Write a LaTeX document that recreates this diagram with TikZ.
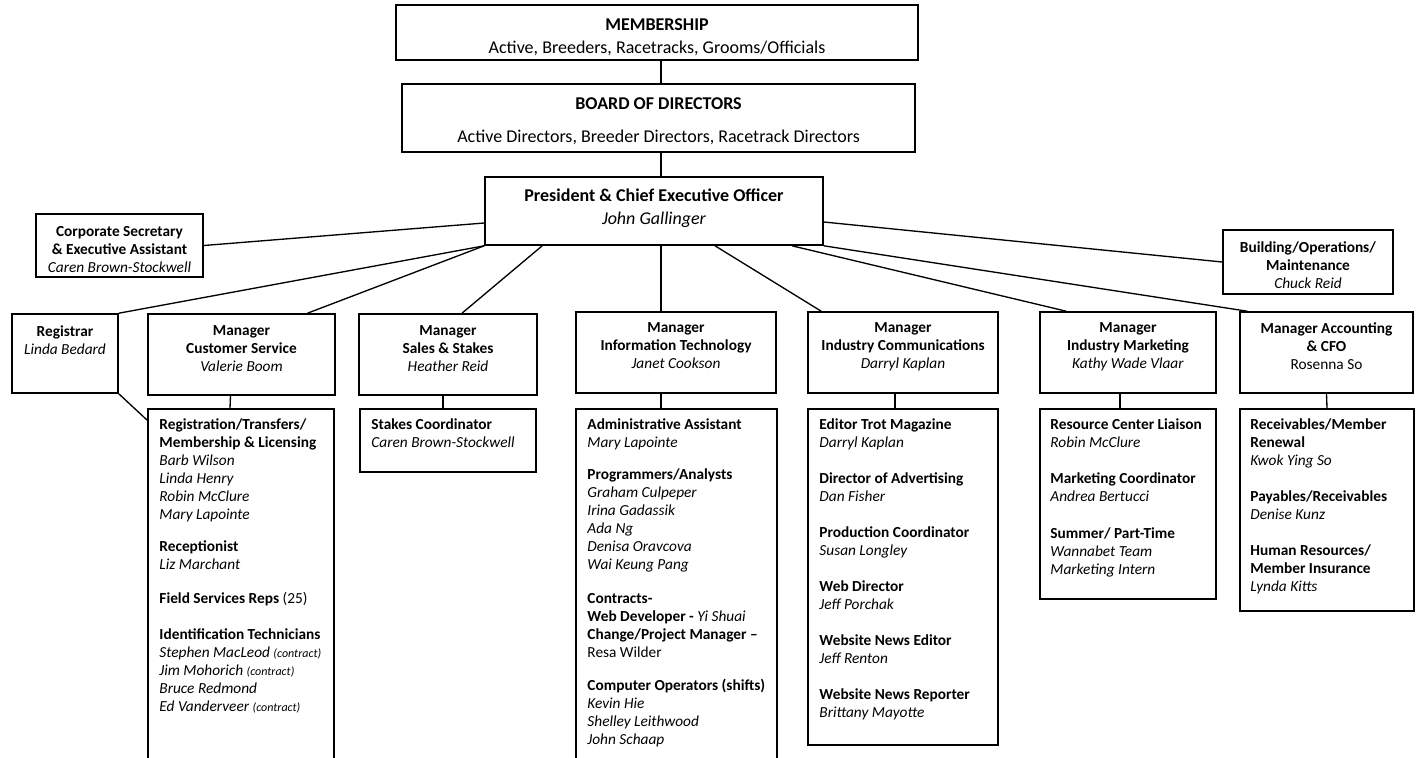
\documentclass[tikz,border=0pt]{standalone}
\usepackage{fontspec}
\setmainfont{Carlito}
\usetikzlibrary{calc}
\usetikzlibrary{fit}
\tikzset{
  box/.style={draw, line width=1.2pt, inner sep=0pt},
  txt/.style={inner sep=0pt, align=center, anchor=north, font=\fontsize{11.5}{13.5}\selectfont},
  toptxt/.style={txt, font=\fontsize{13.5}{17.25}\selectfont},
  listtxt/.style={inner sep=0pt, align=left, anchor=north west, font=\fontsize{11.5}{13.5}\selectfont},
  link/.style={line width=1pt},
}
\newcommand{\contr}{{\fontsize{9}{10}\selectfont\itshape (contract)}}

\begin{document}
\begin{tikzpicture}[x=0.75pt,y=-0.75pt]
    \useasboundingbox (0,0) rectangle (1421,757);
    \clip (0,0) rectangle (1421,757);
    \coordinate (spine) at (661,0);

    % Membership, board and president
    \node[box, fit={(396,5) (918,60)}] (mem) {};
    \node[toptxt] (memText) at ($(mem.north)+(0,14)$) {\textbf{MEMBERSHIP}\\Active, Breeders, Racetracks, Grooms/Officials};
    \node[box, fit={(402,84) (915,152)}] (board) {};
    \node[toptxt] (boardText) at ($(board.north)+(0,14)$) {\textbf{BOARD OF DIRECTORS}\\[7.5pt]Active Directors, Breeder Directors, Racetrack Directors};
    \node[box, fit={(485,177) (823,245)}] (pres) {};
    \node[toptxt] (presText) at ($(pres.north)+(0,12)$) {\textbf{President \& Chief Executive Officer}\\\textit{John Gallinger}};

    % Staff beside the president
    \node[box, fit={(36,214) (203,277)}] (corp) {};
    \node[txt] (corpText) at ($(corp.north)+(0,13)$) {\textbf{Corporate Secretary}\\\textbf{\& Executive Assistant}\\\textit{Caren Brown-Stockwell}};
    \node[box, fit={(1223,230) (1393,294)}] (bldg) {};
    \node[txt] (bldgText) at ($(bldg.north)+(0,12)$) {\textbf{Building/Operations/}\\\textbf{Maintenance}\\\textit{Chuck Reid}};

    % Managers
    \node[box, fit={(12,314) (118,393)}] (reg) {};
    \node[txt] (regText) at ($(reg.north)+(0,12)$) {\textbf{Registrar}\\\textit{Linda Bedard}};
    \node[box, fit={(148,314) (335,395)}] (cs) {};
    \node[txt] (csText) at ($(cs.north)+(0,12)$) {\textbf{Manager}\\\textbf{Customer Service}\\\textit{Valerie Boom}};
    \node[box, fit={(359,314) (537,395)}] (sales) {};
    \node[txt] (salesText) at ($(sales.north)+(0,12)$) {\textbf{Manager}\\\textbf{Sales \& Stakes}\\\textit{Heather Reid}};
    \node[box, fit={(576,312) (776,393)}] (it) {};
    \node[txt] (itText) at ($(it.north)+(0,11)$) {\textbf{Manager}\\\textbf{Information Technology}\\\textit{Janet Cookson}};
    \node[box, fit={(808,312) (998,393)}] (comm) {};
    \node[txt] (commText) at ($(comm.north)+(0,11)$) {\textbf{Manager}\\\textbf{Industry Communications}\\\textit{Darryl Kaplan}};
    \node[box, fit={(1040,312) (1216,393)}] (mkt) {};
    \node[txt] (mktText) at ($(mkt.north)+(0,11)$) {\textbf{Manager}\\\textbf{Industry Marketing}\\\textit{Kathy Wade Vlaar}};
    \node[box, fit={(1240,312) (1413,393)}] (acct) {};
    \node[txt] (acctText) at ($(acct.north)+(0,11)$) {\textbf{Manager Accounting}\\\textbf{\& CFO}\\Rosenna So};

    % Staff lists
    \node[box, fit={(148,409) (334,770)}] (csList) {};
    \node[listtxt] (csListText) at ($(csList.north west)+(12,10)$) {\textbf{Registration/Transfers/}\\\textbf{Membership \& Licensing}\\\textit{Barb Wilson}\\\textit{Linda Henry}\\\textit{Robin McClure}\\\textit{Mary Lapointe}\\[11pt]
        \textbf{Receptionist}\\\textit{Liz Marchant}\\[12pt]
        \textbf{Field Services Reps} (25)\\[13pt]
        \textbf{Identification Technicians}\\\textit{Stephen MacLeod} \contr\\\textit{Jim Mohorich} \contr\\\textit{Bruce Redmond}\\\textit{Ed Vanderveer} \contr};
    \node[box, fit={(360,409) (536,472)}] (salesList) {};
    \node[listtxt] (salesListText) at ($(salesList.north west)+(12,10)$) {\textbf{Stakes Coordinator}\\\textit{Caren Brown-Stockwell}};
    \node[box, fit={(576,409) (777,770)}] (itList) {};
    \node[listtxt] (itListText) at ($(itList.north west)+(12,10)$) {\textbf{Administrative Assistant}\\\textit{Mary Lapointe}\\[11pt]
        \textbf{Programmers/Analysts}\\\textit{Graham Culpeper}\\\textit{Irina Gadassik}\\\textit{Ada Ng}\\\textit{Denisa Oravcova}\\\textit{Wai Keung Pang}\\[12pt]
        \textbf{Contracts-}\\\textbf{Web Developer -} \textit{Yi Shuai}\\\textbf{Change/Project Manager --}\\Resa Wilder\\[11pt]
        \textbf{Computer Operators (shifts)}\\\textit{Kevin Hie}\\\textit{Shelley Leithwood}\\\textit{John Schaap}};
    \node[box, fit={(808,409) (998,745)}] (commList) {};
    \node[listtxt] (commListText) at ($(commList.north west)+(12,10)$) {\textbf{Editor Trot Magazine}\\\textit{Darryl Kaplan}\\[13.5pt]
        \textbf{Director of Advertising}\\\textit{Dan Fisher}\\[13.5pt]
        \textbf{Production Coordinator}\\\textit{Susan Longley}\\[13.5pt]
        \textbf{Web Director}\\\textit{Jeff Porchak}\\[13.5pt]
        \textbf{Website News Editor}\\\textit{Jeff Renton}\\[13.5pt]
        \textbf{Website News Reporter}\\\textit{Brittany Mayotte}};
    \node[box, fit={(1040,409) (1216,599)}] (mktList) {};
    \node[listtxt] (mktListText) at ($(mktList.north west)+(11,10)$) {\textbf{Resource Center Liaison}\\\textit{Robin McClure}\\[14pt]
        \textbf{Marketing Coordinator}\\\textit{Andrea Bertucci}\\[14pt]
        \textbf{Summer/ Part-Time}\\\textit{Wannabet Team}\\\textit{Marketing Intern}};
    \node[box, fit={(1240,409) (1414,611)}] (acctList) {};
    \node[listtxt] (acctListText) at ($(acctList.north west)+(11,10)$) {\textbf{Receivables/Member}\\\textbf{Renewal}\\\textit{Kwok Ying So}\\[13.5pt]
        \textbf{Payables/Receivables}\\\textit{Denise Kunz}\\[13.5pt]
        \textbf{Human Resources/}\\\textbf{Member Insurance}\\\textit{Lynda Kitts}};

    % Reporting lines
    \draw[link] (mem.south -| spine) -- (board.north -| spine);
    \draw[link] (board.south -| spine) -- (pres.north -| spine);
    \draw[link] (pres.south -| spine) -- (it.north -| spine);
    \draw[link] (it.south -| spine) -- (itList.north -| spine);
    \draw[link] ($(pres.west)+(0,12)$) -- (corp.east);
    \draw[link] ($(pres.east)+(0,11)$) -- (bldg.west);
    \draw[link] (pres.south west) -- (reg.north east);
    \draw[link] (pres.south west) -- ($(cs.north)+(66,0)$);
    \draw[link] ($(pres.south west)+(58,0)$) -- ($(sales.north)+(14,0)$);
    \draw[link] ($(pres.south)+(61,0)$) -- ($(comm.north west)+(14,0)$);
    \draw[link] ($(pres.south)+(138,0)$) -- ($(mkt.north west)+(27,0)$);
    \draw[link] (pres.south east) -- ($(acct.north west)+(8,0)$);
    \draw[link] (reg.south east) -- ($(csList.north west)+(0,12)$);
    \draw[link] ($(cs.south)+(-11,0)$) -- ($(csList.north)+(-11,0)$);
    \draw[link] ($(sales.south)+(-5,0)$) -- ($(salesList.north)+(-5,0)$);
    \draw[link] ($(comm.south)+(-8,0)$) -- ($(commList.north)+(-8,0)$);
    \draw[link] ($(mkt.south)+(-8,0)$) -- ($(mktList.north)+(-8,0)$);
    \draw[link] (acct.south) -- (acctList.north);

\end{tikzpicture}
\end{document}
